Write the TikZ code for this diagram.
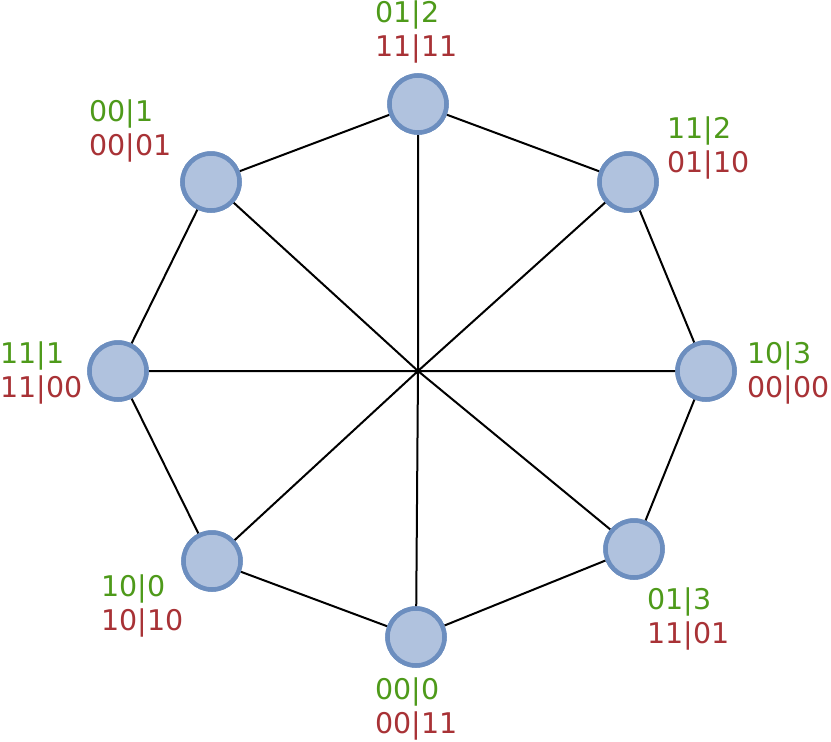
\documentclass[tikz,border=0pt]{standalone}
\usepackage{fontspec}
\setmainfont{DejaVu Sans}
\definecolor{gr}{HTML}{4E9A1A}
\definecolor{rd}{HTML}{A83236}
\definecolor{nf}{HTML}{B0C2DE}
\definecolor{nb}{HTML}{6C8EBF}
\begin{document}
\begin{tikzpicture}[x=1pt,y=-1pt,
  vtx/.style={circle,draw=nb,fill=nf,line width=4.5pt,minimum size=57pt,inner sep=0pt},
  lbl/.style={anchor=west,align=left,font=\fontsize{28.5}{34}\selectfont,inner sep=0pt},
  edge/.style={line width=2pt}]
\useasboundingbox (0,0) rectangle (831,742);
\coordinate (c) at (418,371);
\node[vtx] (t) at (418,104) {};
\node[vtx] (tr) at (628,182) {};
\node[vtx] (r) at (706,371) {};
\node[vtx] (br) at (634,549) {};
\node[vtx] (b) at (416,637) {};
\node[vtx] (bl) at (212,561) {};
\node[vtx] (l) at (118,371) {};
\node[vtx] (tl) at (211,182) {};
\draw[edge] (t)--(tr)--(r)--(br)--(b)--(bl)--(l)--(tl)--(t);
\draw[edge] (t)--(c)--(b) (tr)--(c)--(bl) (r)--(c)--(l) (tl)--(c)--(br);
\foreach \n in {t,tr,r,br,b,bl,l,tl} \node[vtx] at (\n) {};
\node[lbl] (lt) at (375,32) {\textcolor{gr}{01|2}\\\textcolor{rd}{11|11}};
\node[lbl] (ltl) at (89,131) {\textcolor{gr}{00|1}\\\textcolor{rd}{00|01}};
\node[lbl] (ltr) at (667,148) {\textcolor{gr}{11|2}\\\textcolor{rd}{01|10}};
\node[lbl] (lr) at (747,373) {\textcolor{gr}{10|3}\\\textcolor{rd}{00|00}};
\node[lbl] (ll) at (0,373) {\textcolor{gr}{11|1}\\\textcolor{rd}{11|00}};
\node[lbl] (lbr) at (647,619) {\textcolor{gr}{01|3}\\\textcolor{rd}{11|01}};
\node[lbl] (lbl) at (101,606) {\textcolor{gr}{10|0}\\\textcolor{rd}{10|10}};
\node[lbl] (lb) at (375,709) {\textcolor{gr}{00|0}\\\textcolor{rd}{00|11}};
\end{tikzpicture}
\end{document}
